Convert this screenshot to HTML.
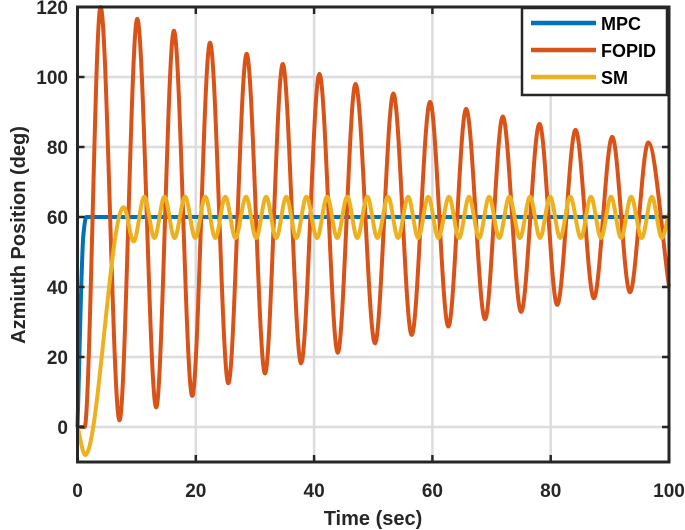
<!DOCTYPE html>
<html><head><meta charset="utf-8"><style>
html,body{margin:0;padding:0;background:#fff;}
svg{display:block;font-family:"Liberation Sans",Arial,sans-serif;}
</style></head><body>
<svg id="chart" width="685" height="530">
<g id="grid"></g>
<g id="series"></g>
<g id="axes"></g>
<text x="373" y="525" text-anchor="middle" font-size="20" font-weight="bold" fill="#262626">Time (sec)</text>
<text transform="translate(25,235) rotate(-90)" text-anchor="middle" font-size="20" font-weight="bold" fill="#262626">Azmiuth Position (deg)</text>
<g>
<rect x="522" y="8" width="145" height="87" fill="#fff" stroke="#262626" stroke-width="2.5"/>
<line x1="531" y1="23" x2="596" y2="23" stroke="#0072BD" stroke-width="4.5"/>
<text x="601" y="30" font-size="18" font-weight="bold" fill="#000">MPC</text>
<line x1="531" y1="50" x2="596" y2="50" stroke="#D95319" stroke-width="4.5"/>
<text x="601" y="57" font-size="18" font-weight="bold" fill="#000">FOPID</text>
<line x1="531" y1="77" x2="596" y2="77" stroke="#EDB120" stroke-width="4.5"/>
<text x="601" y="84" font-size="18" font-weight="bold" fill="#000">SM</text>
</g>
</svg>
<script>
const xTicks=[0,20,40,60,80,100];
const yTicks=[0,20,40,60,80,100,120];
const mpcT=[0,1.0,1.5,100];
const mpcV=[0,55,60,60];
const fopidT=[0,1.2,3.9,7.1,10.1,13.3,16.3,19.4,22.4,25.5,28.6,31.7,34.7,37.8,40.9,44.0,47.0,50.3,53.4,56.5,59.6,62.7,65.7,68.9,71.9,75.0,78.1,81.1,84.2,87.3,90.4,93.4,96.5,100];
const fopidV=[0,0,120,1.9,116.6,5.6,113.2,8.9,109.8,12.5,106.6,15.3,103.7,18.2,100.9,21.2,98,23.9,95.3,26.3,92.9,28.7,90.9,30.8,88.7,32.9,86.6,34.9,84.9,36.8,82.9,38.5,81.3,40.1];
const smT=[0,1.3,7.8,9.5,11.3,13.0,14.7,16.4,18.2,19.9,21.6,23.3,25.0,26.7,28.5,30.2,31.9,33.6,35.3,37.0,38.7,40.5,42.2,43.9,45.6,47.3,49.0,50.7,52.5,54.2,55.9,57.6,59.3,61.0,62.8,64.5,66.2,67.9,69.6,71.3,73.0,74.8,76.5,78.2,79.9,81.6,83.3,85.1,86.8,88.5,90.2,91.9,93.6,95.4,97.1,98.8,100];
const smV=[0,-8,62.8,53,65.8,54,65.8,54,65.8,54,65.8,54,65.8,54,65.8,54,65.8,54,65.8,54,65.8,54,65.8,54,65.8,54,65.8,54,65.8,54,65.8,54,65.8,54,65.8,54,65.8,54,65.8,54,65.8,54,65.8,54,65.8,54,65.8,54,65.8,54,65.8,54,65.8,54,65.8,54,61];

const X0=77.5,X1=669,Y0=462,Y1=7,tMin=0,tMax=100,vMin=-10,vMax=120;
const sx=t=>X0+(t-tMin)/(tMax-tMin)*(X1-X0);
const sy=v=>Y0-(v-vMin)/(vMax-vMin)*(Y0-Y1);
const NS='http://www.w3.org/2000/svg';
function mk(tag,attrs,parent){const e=document.createElementNS(NS,tag);for(const k in attrs)e.setAttribute(k,attrs[k]);parent.appendChild(e);return e;}
const grid=document.getElementById('grid'),axes=document.getElementById('axes'),series=document.getElementById('series');
xTicks.forEach(t=>{
  const g=mk('line',{x1:sx(t),x2:sx(t),y1:Y1,y2:Y0,stroke:'#dcdcdc','stroke-width':2.5},grid);
  
  
  const tk=mk('line',{x1:sx(t),x2:sx(t),y1:Y0,y2:Y0-7,stroke:'#262626','stroke-width':2.5},axes);
  
  
  const tk2=mk('line',{x1:sx(t),x2:sx(t),y1:Y1,y2:Y1+7,stroke:'#262626','stroke-width':2.5},axes);
  
  
  const l=mk('text',{x:sx(t),y:497,'text-anchor':'middle','font-size':19,'font-weight':'bold',fill:'#262626'},axes);
  l.textContent=t;
  
  
});
yTicks.forEach(v=>{
  const g=mk('line',{x1:X0,x2:X1,y1:sy(v),y2:sy(v),stroke:'#dcdcdc','stroke-width':2.5},grid);
  
  
  const tk=mk('line',{x1:X0,x2:X0+7,y1:sy(v),y2:sy(v),stroke:'#262626','stroke-width':2.5},axes);
  
  
  const tk2=mk('line',{x1:X1,x2:X1-7,y1:sy(v),y2:sy(v),stroke:'#262626','stroke-width':2.5},axes);
  
  
  const l=mk('text',{x:68,y:sy(v)+7,'text-anchor':'end','font-size':19,'font-weight':'bold',fill:'#262626'},axes);
  l.textContent=v;
  
  
});
const box=mk('rect',{x:X0,y:Y1,width:X1-X0,height:Y0-Y1,fill:'none',stroke:'#262626','stroke-width':3},axes);



function monotone(T,V){
  const n=T.length,d=[],m=new Array(n).fill(0);
  for(let i=0;i<n-1;i++)d.push((V[i+1]-V[i])/(T[i+1]-T[i]));
  m[0]=d[0];m[n-1]=d[n-2];
  for(let i=1;i<n-1;i++){m[i]=(d[i-1]*d[i]<=0)?0:(2/(1/d[i-1]+1/d[i]));}
  let p='M'+sx(T[0]).toFixed(2)+','+sy(V[0]).toFixed(2);
  for(let i=0;i<n-1;i++){
    const h=T[i+1]-T[i];
    const c1t=T[i]+h/3,c1v=V[i]+m[i]*h/3,c2t=T[i+1]-h/3,c2v=V[i+1]-m[i+1]*h/3;
    p+=' C'+sx(c1t).toFixed(2)+','+sy(c1v).toFixed(2)+' '+sx(c2t).toFixed(2)+','+sy(c2v).toFixed(2)+' '+sx(T[i+1]).toFixed(2)+','+sy(V[i+1]).toFixed(2);
  }
  return p;
}
const pm=mk('path',{d:monotone(mpcT,mpcV),fill:'none',stroke:'#0072BD','stroke-width':4},series);


const pf=mk('path',{d:monotone(fopidT,fopidV),fill:'none',stroke:'#D95319','stroke-width':4},series);


const ps=mk('path',{d:monotone(smT,smV),fill:'none',stroke:'#EDB120','stroke-width':4},series);


</script>
</body></html>
